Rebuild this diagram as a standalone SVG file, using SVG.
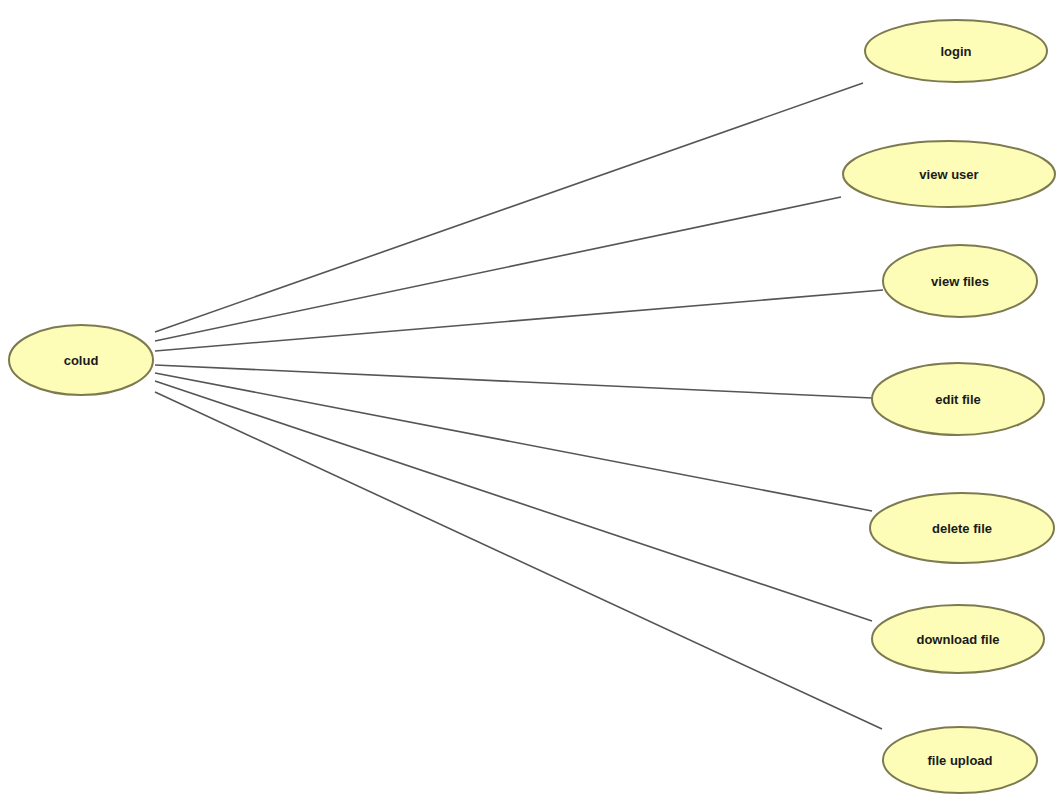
<svg xmlns="http://www.w3.org/2000/svg" width="1057" height="796" viewBox="0 0 1057 796">
<style>
.uc{fill:#fdfdb8;stroke:#7d7a50;stroke-width:2}
.lbl{font-family:"Liberation Sans",Arial,sans-serif;font-size:13px;font-weight:bold;fill:#1a1a1a;text-anchor:middle;dominant-baseline:central}
.conn line{stroke:#555;stroke-width:1.6}
</style>
<rect width="1057" height="796" fill="#ffffff"/>
<g class="conn" id="connectors">
<line x1="155" y1="332" x2="863" y2="83"/>
<line x1="155" y1="341" x2="841" y2="197"/>
<line x1="155" y1="351" x2="883" y2="290"/>
<line x1="155" y1="365" x2="872" y2="398"/>
<line x1="155" y1="373" x2="872" y2="511"/>
<line x1="155" y1="381" x2="872" y2="621"/>
<line x1="155" y1="392" x2="882" y2="729"/>
</g>
<g id="colud"><ellipse class="uc" cx="81" cy="360" rx="72" ry="35"/><text class="lbl" x="81" y="360">colud</text></g>
<g id="login"><ellipse class="uc" cx="956" cy="51" rx="91" ry="31"/><text class="lbl" x="956" y="51">login</text></g>
<g id="view-user"><ellipse class="uc" cx="949" cy="174" rx="106" ry="33"/><text class="lbl" x="949" y="174">view user</text></g>
<g id="view-files"><ellipse class="uc" cx="960" cy="281" rx="77" ry="36"/><text class="lbl" x="960" y="281">view files</text></g>
<g id="edit-file"><ellipse class="uc" cx="958" cy="399" rx="86" ry="36"/><text class="lbl" x="958" y="399">edit file</text></g>
<g id="delete-file"><ellipse class="uc" cx="962" cy="528" rx="92" ry="35"/><text class="lbl" x="962" y="528">delete file</text></g>
<g id="download-file"><ellipse class="uc" cx="958" cy="639" rx="86" ry="34"/><text class="lbl" x="958" y="639">download file</text></g>
<g id="file-upload"><ellipse class="uc" cx="960" cy="760" rx="77" ry="33"/><text class="lbl" x="960" y="760">file upload</text></g>
</svg>
